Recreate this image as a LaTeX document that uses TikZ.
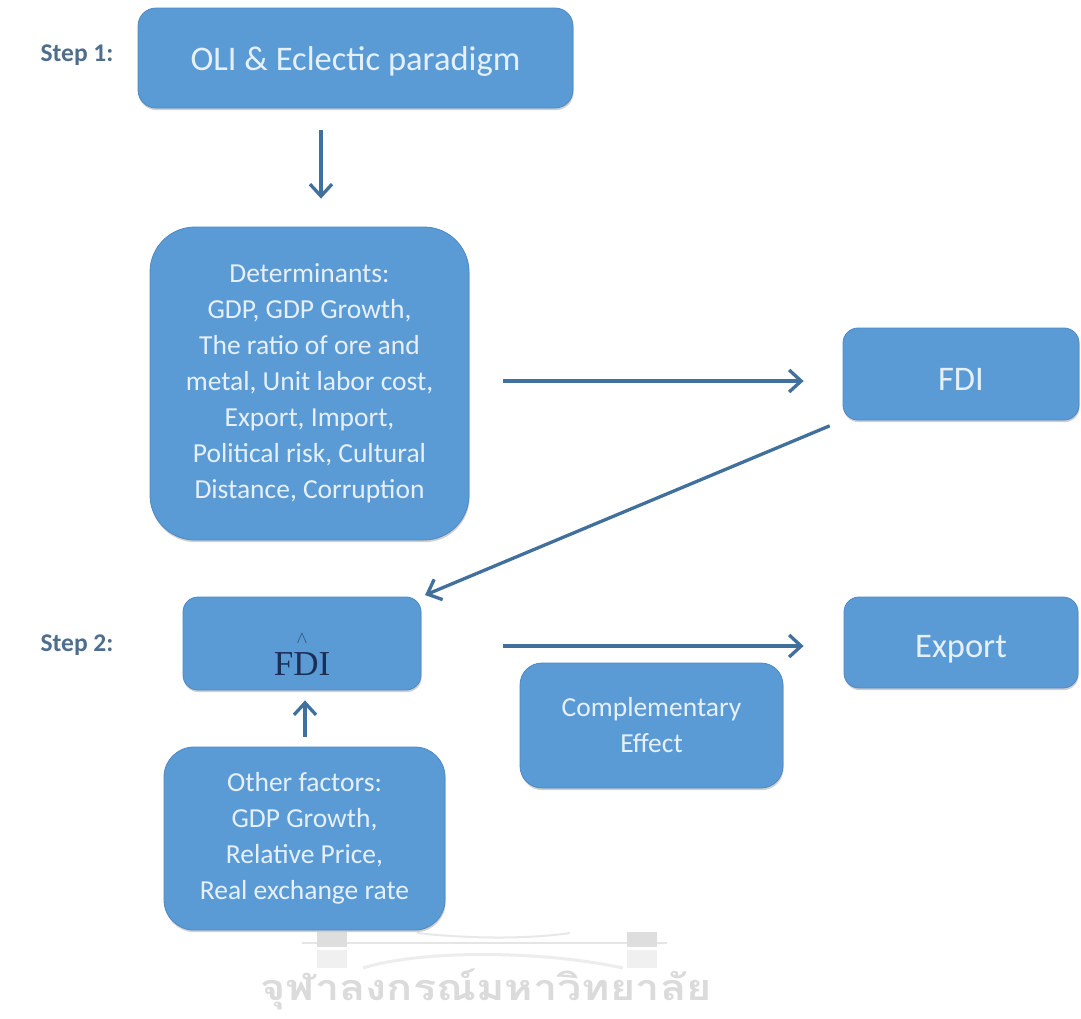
\documentclass[tikz,border=0pt]{standalone}
\usepackage{fontspec}
\setmainfont{Carlito}
\newfontfamily\serifont{Liberation Serif}
\newfontfamily\thaifont[Script=Thai]{Loma}
\usetikzlibrary{arrows.meta,shadows}
\definecolor{boxfill}{HTML}{5B9BD5}
\definecolor{boxline}{HTML}{4F88C2}
\definecolor{boxtext}{HTML}{E6F0FA}
\definecolor{arrowc}{HTML}{41709C}
\definecolor{stepc}{HTML}{4E6E8E}
\definecolor{navyc}{HTML}{1B2F55}
\definecolor{caretc}{HTML}{3A5F8A}
\begin{document}
\begin{tikzpicture}[x=1pt,y=-1pt,
  box/.style={draw=boxline, line width=0.8pt, fill=boxfill, text=boxtext,
    inner sep=0pt, align=center,
    drop shadow={shadow xshift=0.6pt, shadow yshift=-2.2pt, opacity=0.3, fill=black!60}},
  titlefont/.style={font=\fontsize{34.5}{40}\selectfont},
  bodyfont/.style={font=\fontsize{27.5}{36}\selectfont},
  steplabel/.style={font=\bfseries\fontsize{25.5}{30}\selectfont, text=stepc, inner sep=0pt},
  arr/.style={draw=arrowc, line width=3.3pt, -{Straight Barb[length=12pt,width=22pt]}},
  wm/.style={font=\thaifont\bfseries\fontsize{36}{36}\selectfont, text=black!14, inner sep=0pt}]
\useasboundingbox[fill=white] (0,0) rectangle (1081,1018);

% watermark
\draw[black!10, line width=2pt] (302,943) -- (667,943);
\fill[black!13] (317,932) rectangle (347,947);
\fill[black!13] (627,932) rectangle (657,947);
\fill[black!6] (317,950) rectangle (347,968);
\fill[black!6] (627,950) rectangle (657,968);
\draw[black!7, line width=3pt] (363,968) .. controls (420,950) and (540,950) .. (623,968);
\draw[black!9, line width=2pt] (417,933) .. controls (470,939) and (530,939) .. (570,933);
\node[wm, anchor=base, xscale=1.2] (wmtext) at (486,1000) {จุฬาลงกรณ์มหาวิทยาลัย};

% step labels
\node[steplabel] (s1) at (77,55) {Step 1:};
\node[steplabel] (s2) at (77,645) {Step 2:};

% boxes
\node[box, titlefont, minimum width=435pt, minimum height=100pt, rounded corners=18pt,
  text height=32pt, text depth=8pt] (oli) at (355.5,58) {OLI \& Eclectic paradigm};
\node[box, bodyfont, minimum width=319pt, minimum height=313pt, rounded corners=45pt] (det) at (309.5,383.5)
  {Determinants:\\GDP, GDP Growth,\\The ratio of ore and\\metal, Unit labor cost,\\Export, Import,\\Political risk, Cultural\\Distance, Corruption};
\node[box, titlefont, minimum width=236pt, minimum height=92pt, rounded corners=15pt,
  text height=32pt, text depth=0pt] (fdi) at (961,374) {FDI};
\node[box, minimum width=238pt, minimum height=93pt, rounded corners=15pt,
  text height=63pt, text depth=0pt] (hat) at (302,643.5)
  {\ooalign{\serifont\fontsize{35}{35}\selectfont\color{navyc}FDI\cr\hfil\raisebox{28pt}{\serifont\fontsize{22}{22}\selectfont\color{caretc}\textasciicircum}\hfil\cr}};
\node[box, bodyfont, minimum width=281pt, minimum height=183pt, rounded corners=30pt] (other) at (304.5,838.5)
  {Other factors:\\GDP Growth,\\Relative Price,\\Real exchange rate};
\node[box, bodyfont, minimum width=263pt, minimum height=125pt, rounded corners=22pt] (comp) at (651.5,725.5)
  {Complementary\\Effect};
\node[box, titlefont, minimum width=234pt, minimum height=91pt, rounded corners=15pt,
  text height=37pt, text depth=8pt] (exp) at (961,642.5) {Export};

% connectors
\draw[arr, shorten <=22pt, shorten >=28pt] ([xshift=-34.5pt]oli.south) -- ([xshift=11.5pt]det.north);
\draw[arr, shorten <=34pt, shorten >=39pt] ([yshift=2.5pt]det.east) -- ([yshift=-7pt]fdi.west);
\draw[arr, shorten <=14pt, shorten >=4pt] (fdi.south west) -- (hat.north east);
\draw[arr, shorten <=10pt, shorten >=10pt] ([xshift=0.5pt]other.north) -- ([xshift=3pt]hat.south);
\draw[arr, shorten <=82pt, shorten >=40pt] ([yshift=-2.5pt]hat.east) -- ([yshift=-3.5pt]exp.west);
\end{tikzpicture}
\end{document}
